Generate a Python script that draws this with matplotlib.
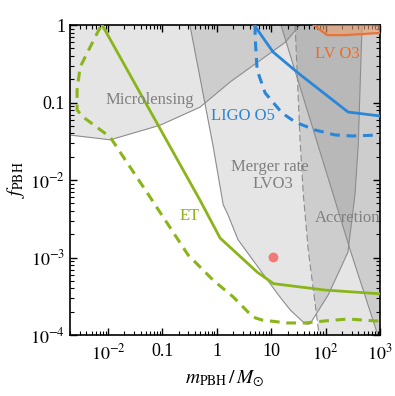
import numpy as np
import matplotlib
matplotlib.use('Agg')
import matplotlib.pyplot as plt

plt.rcParams['font.family'] = ['Liberation Serif', 'DejaVu Serif']
plt.rcParams['mathtext.fontset'] = 'stix'

# ---------------- data (m in solar masses, f = f_PBH) ----------------
micro_m = [1e-3, 2.0e-3, 1.1e-2, 0.091, 0.49, 1.76, 18.2, 34.0]
micro_f = [0.040, 0.038, 0.033, 0.051, 0.087, 0.184, 0.60, 1.0]

merger_m = [0.32, 0.85, 1.31, 1.62, 2.45, 13.5, 22.4, 41.7, 48.0, 52.0, 112.0, 257.0, 347.0, 398.0, 468.0]
merger_f = [1.0, 0.028, 4.8e-3, 3.5e-3, 1.7e-3, 3.3e-4, 2.1e-4, 1.4e-4, 1.38e-4, 1.4e-4, 3.3e-4, 1.17e-3, 6.5e-3, 0.028, 1.0]

accA_m = [27.5, 33.9, 38.9, 47.9, 76.0]
accA_f = [1.0, 0.033, 6.5e-3, 1.26e-3, 1e-4]

accB_m = [15.1, 67.6, 138.0, 282.0, 912.0]
accB_f = [1.0, 0.033, 6.5e-3, 1.26e-3, 1e-4]

lvo3_m = [60.0, 107.0, 230.0, 1000.0]
lvo3_f = [1.0, 0.74, 0.74, 0.79]

et_m = [7.8e-3, 0.49, 1.15, 5.5, 11.0, 98.0, 1000.0]
et_f = [1.0, 5.5e-3, 1.78e-3, 6.5e-4, 4.6e-4, 3.8e-4, 3.4e-4]

etd_m = [7.2e-3, 3.07e-3, 2.70e-3, 2.70e-3, 3.48e-3, 1.09e-2, 5.94e-2, 0.296, 0.855, 2.0, 4.64, 6.81, 19.6, 42.0, 98.0, 259.0, 813.0, 1000.0]
etd_f = [0.94, 0.287, 0.145, 0.080, 0.065, 0.0359, 6.0e-3, 1.08e-3, 5.1e-4, 3.1e-4, 1.7e-4, 1.56e-4, 1.43e-4, 1.43e-4, 1.52e-4, 1.61e-4, 1.52e-4, 1.52e-4]

ligo_m = [4.85, 10.8, 31.3, 259.0, 1000.0]
ligo_f = [1.0, 0.449, 0.240, 0.0753, 0.0670]

ligod_m = [5.06, 5.06, 5.51, 7.73, 15.8, 27.5, 64.1, 150.0, 307.0, 1000.0]
ligod_f = [1.0, 0.70, 0.262, 0.133, 0.0733, 0.056, 0.0442, 0.0381, 0.0370, 0.0381]

event_m = [11.0]
event_f = [1.0e-3]

xticks = [1e-2, 0.1, 1, 10, 1e2, 1e3]
xticklabels = [r'$10^{-2}$', '0.1', '1', '10', r'$10^{2}$', r'$10^{3}$']
yticks = [1e-4, 1e-3, 1e-2, 0.1, 1]
yticklabels = [r'$10^{-4}$', r'$10^{-3}$', r'$10^{-2}$', '0.1', '1']

# ---------------- figure ----------------
fig = plt.figure(figsize=(3.95, 3.96), dpi=100)
ax = fig.add_axes([70/395, 61/396, 310/395, 310/396])
ax.set_xscale('log')
ax.set_yscale('log')
ax.set_xlim(2e-3, 1e3)
ax.set_ylim(1e-4, 1)

shade = dict(facecolor='black', alpha=0.10, edgecolor='none', zorder=1)
edge = dict(color='#8c8c8c', lw=0.8, zorder=2)

# microlensing
pm = micro_m + [micro_m[-1], 1e-3]
pf = micro_f + [10.0, 10.0]
ax.fill(pm, pf, **shade)
ax.plot(micro_m, micro_f, **edge)

# merger rate LVO3
pm = [merger_m[0]] + merger_m + [merger_m[-1]]
pf = [10.0] + merger_f + [10.0]
ax.fill(pm, pf, **shade)
ax.plot(merger_m, merger_f, **edge)

# accretion (dashed)
pm = [accA_m[0]] + accA_m + [accA_m[-1], 1e4, 1e4]
pf = [10.0] + accA_f + [1e-5, 1e-5, 10.0]
ax.fill(pm, pf, **shade)
ax.plot(accA_m, accA_f, color='#8c8c8c', lw=0.8, ls=(0, (6, 3)), zorder=2)

# accretion (solid)
pm = [accB_m[0]] + accB_m + [accB_m[-1], 1e4, 1e4]
pf = [10.0] + accB_f + [1e-5, 1e-5, 10.0]
ax.fill(pm, pf, **shade)
ax.plot(accB_m, accB_f, **edge)

# LV O3
ax.fill_between(lvo3_m, lvo3_f, 10.0, facecolor='#f0a070', alpha=0.6, edgecolor='none', zorder=3)
ax.plot(lvo3_m, lvo3_f, color='#e8733a', lw=1.6, zorder=3)

green = '#8ab51a'
blue = '#2a86d8'
ax.plot(et_m, et_f, color=green, lw=2.0, zorder=4)
ax.plot(etd_m, etd_f, color=green, lw=2.2, ls=(0, (3.2, 2.2)), zorder=4)
ax.plot(ligo_m, ligo_f, color=blue, lw=2.0, zorder=4)
ax.plot(ligod_m, ligod_f, color=blue, lw=2.2, ls=(0, (3.2, 2.2)), zorder=4)

ax.scatter(event_m, event_f, s=50, color='#f07a78', edgecolor='none', zorder=5)

# labels inside
tk = dict(fontsize=12, ha='center', va='center', zorder=6)
ax.text(0.059, 0.108, 'Microlensing', color='#808080', **tk)
ax.text(3.07, 0.067, 'LIGO O5', color=blue, **tk)
ax.text(9.6, 0.0147, 'Merger rate', color='#808080', **tk)
ax.text(10.8, 8.9e-3, 'LVO3', color='#808080', **tk)
ax.text(250.0, 3.2e-3, 'Accretion', color='#808080', **tk)
ax.text(0.32, 3.4e-3, 'ET', color=green, **tk)
ax.text(163.0, 0.42, 'LV O3', color='#f26a25', **tk)

ax.set_xticks(xticks)
ax.set_xticklabels(xticklabels)
ax.set_yticks(yticks)
ax.set_yticklabels(yticklabels)
ax.tick_params(which='both', direction='in', top=True, right=True, labelsize=13, width=1.0)
ax.tick_params(which='major', length=5)
ax.tick_params(which='minor', length=3, width=0.8)
ax.tick_params(axis='x', pad=6)
for s in ax.spines.values():
    s.set_linewidth(1.2)

ax.set_xlabel(r'$m_{\rm PBH}\,/\,M_{\odot}$', fontsize=14, labelpad=4)
ax.set_ylabel(r'$f_{\rm PBH}$', fontsize=14, labelpad=2)

fig.savefig('out.png', dpi=100)
